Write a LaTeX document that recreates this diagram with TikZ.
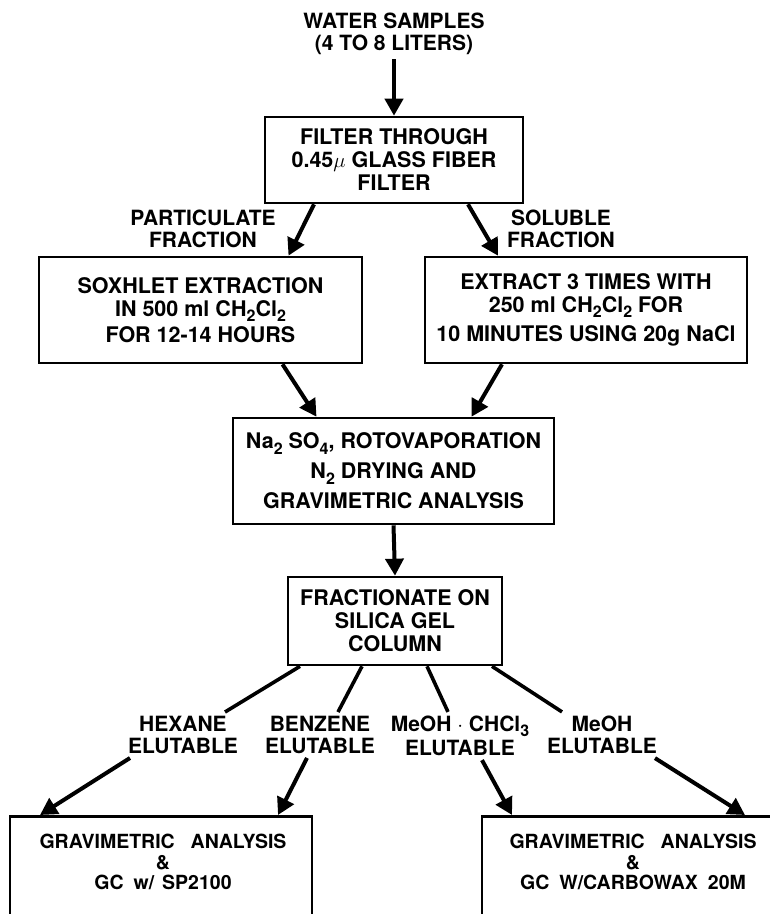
\documentclass[tikz,border=0pt]{standalone}
\usepackage{fontspec}
\setmainfont{TeX Gyre Heros}
\usetikzlibrary{arrows.meta}
\newcommand{\lowsub}[1]{\raisebox{-0.45ex}{\fontsize{16}{16}\selectfont #1}}
\tikzstyle{stepbox}=[draw,line width=2.6pt,align=center,inner sep=0pt,font=\fontsize{21.5}{23}\selectfont\bfseries]
\tikzstyle{lbl}=[align=center,inner sep=4pt,font=\fontsize{21}{22}\selectfont\bfseries]
\tikzstyle{endtext}=[align=center,inner sep=0pt,font=\fontsize{19.5}{20.5}\selectfont\bfseries]
\tikzstyle{flow}=[draw,line width=4pt,-{Triangle[length=17pt,width=18pt]}]
\tikzstyle{branch}=[draw,line width=3.6pt]

\begin{document}
\begin{tikzpicture}[x=1pt,y=-1pt]
  \useasboundingbox (0,0) rectangle (770,914);
  \clip (0,0) rectangle (770,914);

  \node[lbl] (water) at (394,34) {WATER SAMPLES\\(4 TO 8 LITERS)};
  \node[stepbox,minimum width=258pt,minimum height=86pt] (filter) at (394,160)
    {FILTER THROUGH\\0.45$\mu$ GLASS FIBER\\FILTER};
  \node[lbl] (part) at (203,229) {PARTICULATE\\FRACTION};
  \node[lbl] (sol) at (561,229) {SOLUBLE\\FRACTION};
  \node[stepbox,minimum width=323pt,minimum height=106pt] (sox) at (200.5,310)
    {SOXHLET EXTRACTION\\IN 500 ml CH\lowsub{2}Cl\lowsub{2}\\[3pt]FOR 12-14 HOURS};
  \node[stepbox,minimum width=322pt,minimum height=106pt] (ext) at (586,310)
    {EXTRACT 3 TIMES WITH\\250 ml CH\lowsub{2}Cl\lowsub{2} FOR\\[6pt]10 MINUTES USING 20g NaCl};
  \node[stepbox,minimum width=321pt,minimum height=106pt] (dry) at (393.5,471)
    {Na\lowsub{2} SO\lowsub{4}, ROTOVAPORATION\\[7pt]N\lowsub{2} DRYING AND\\[7pt]GRAVIMETRIC ANALYSIS};
  \node[stepbox,minimum width=214pt,minimum height=88pt] (frac) at (395,621)
    {FRACTIONATE ON\\SILICA GEL\\COLUMN};

  \node[lbl] (hex) at (183,735) {HEXANE\\ELUTABLE};
  \node[lbl] (ben) at (320,735) {BENZENE\\ELUTABLE};
  \node[lbl] (mc) at (460,736) {MeOH $\cdot$ CHCl\lowsub{3}\\[2pt]ELUTABLE};
  \node[lbl] (meoh) at (602,735) {MeOH\\ELUTABLE};

  \node[stepbox,minimum width=302pt,minimum height=160pt,anchor=north] (lbox) at (161,815) {};
  \node[stepbox,minimum width=302pt,minimum height=160pt,anchor=north] (rbox) at (633,815) {};
  \node[endtext] (ltext) at (163,862)
    {GRAVIMETRIC\hspace{16pt}ANALYSIS\\\&\\GC\hspace{10pt}w/\hspace{8pt}SP2100};
  \node[endtext] (rtext) at (633,862)
    {GRAVIMETRIC\hspace{16pt}ANALYSIS\\\&\\GC\hspace{10pt}W/CARBOWAX\hspace{10pt}20M};

  \path[flow] (water.south) -- (filter.north);
  \path[flow] ([xshift=-80pt]filter.south) -- ([xshift=88pt]sox.north);
  \path[flow] ([xshift=74pt]filter.south) -- ([xshift=-88pt]ext.north);
  \path[flow] ([xshift=82pt]sox.south) -- ([xshift=-77pt]dry.north);
  \path[flow] ([xshift=-84pt]ext.south) -- ([xshift=78pt]dry.north);
  \path[flow] (dry.south) -- (frac.north);

  \foreach \lab/\a/\b in {hex/-95/42,ben/-33/18,mc/32/-12,meoh/97/-40}{
    \path[branch] ([xshift=\a pt]frac.south) -- ([xshift=\b pt]\lab.north);
  }
  \foreach \lab/\a/\bx/\b in {hex/-53/lbox/-121,ben/-13/lbox/117,mc/22/rbox/-121,meoh/53/rbox/112}{
    \path[flow] ([xshift=\a pt]\lab.south) -- ([xshift=\b pt]\bx.north);
  }
\end{tikzpicture}
\end{document}
